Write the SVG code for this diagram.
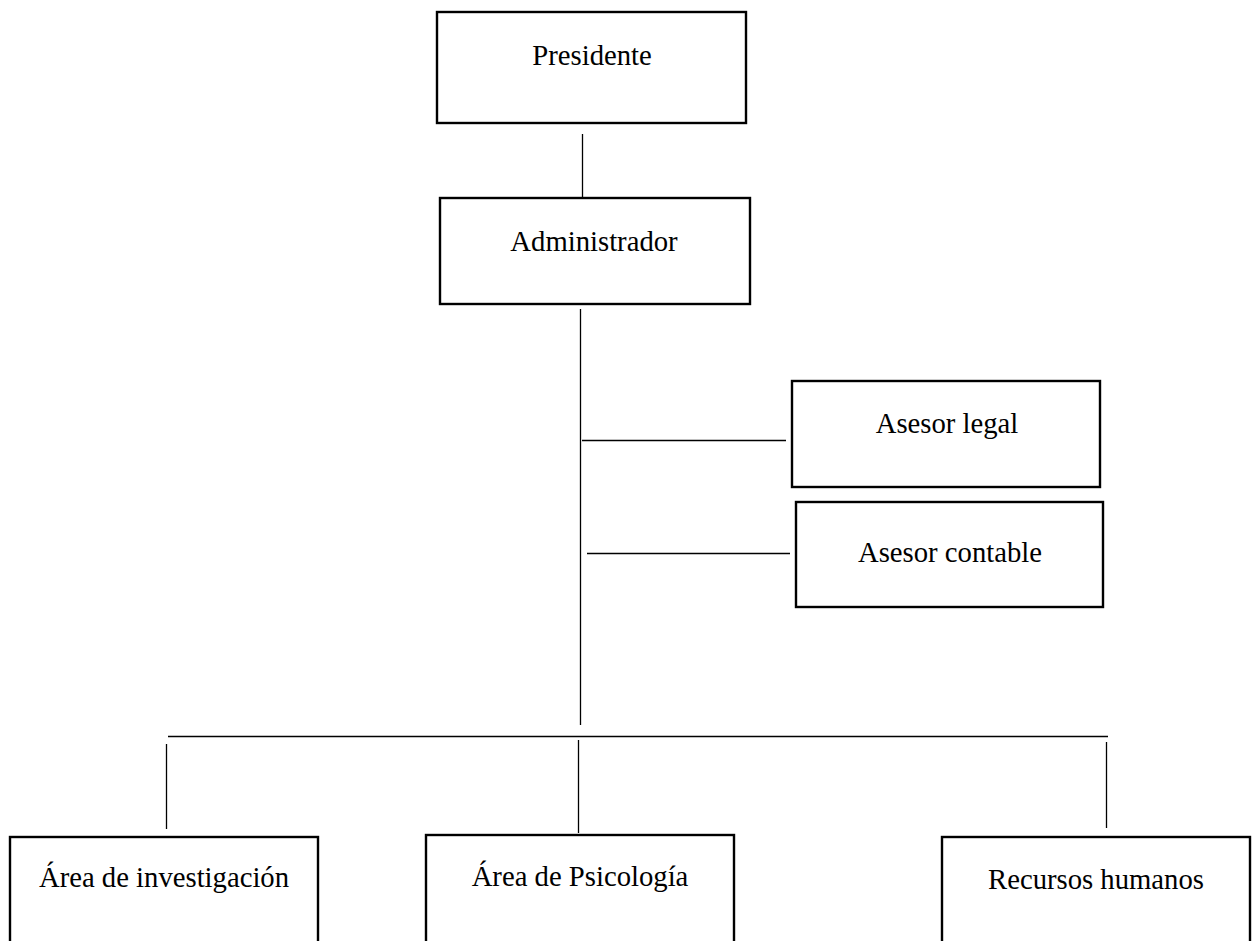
<svg xmlns="http://www.w3.org/2000/svg" width="1254" height="941" viewBox="0 0 1254 941">
<style>
.box{fill:#fff;stroke:#000;stroke-width:2.4}
.ln{stroke:#000;stroke-width:1.3;fill:none}
.t{font-family:"Liberation Serif","Times New Roman",serif;font-size:28.7px;fill:#000;text-anchor:middle}
</style>
<rect width="1254" height="941" fill="#fff"/>
<g id="connectors">
<line class="ln" x1="582.5" y1="134" x2="582.5" y2="197"/>
<line class="ln" x1="580.5" y1="309" x2="580.5" y2="725"/>
<line class="ln" x1="582" y1="440.5" x2="786" y2="440.5"/>
<line class="ln" x1="587" y1="553.5" x2="790" y2="553.5"/>
<line class="ln" x1="168" y1="736.5" x2="1108" y2="736.5"/>
<line class="ln" x1="166.5" y1="744" x2="166.5" y2="829"/>
<line class="ln" x1="578.5" y1="740" x2="578.5" y2="833"/>
<line class="ln" x1="1106.5" y1="742" x2="1106.5" y2="828"/>
</g>
<g id="presidente">
<rect class="box" x="437" y="12" width="309" height="111"/>
<text class="t" x="592" y="65">Presidente</text>
</g>
<g id="administrador">
<rect class="box" x="440" y="198" width="310" height="106"/>
<text class="t" x="594" y="251">Administrador</text>
</g>
<g id="asesor-legal">
<rect class="box" x="792" y="381" width="308" height="106"/>
<text class="t" x="947" y="433">Asesor legal</text>
</g>
<g id="asesor-contable">
<rect class="box" x="796" y="502" width="307" height="105"/>
<text class="t" x="950" y="562">Asesor contable</text>
</g>
<g id="area-investigacion">
<rect class="box" x="10" y="837" width="308" height="130"/>
<text class="t" x="164" y="887">Área de investigación</text>
</g>
<g id="area-psicologia">
<rect class="box" x="426" y="835" width="308" height="130"/>
<text class="t" x="580" y="886">Área de Psicología</text>
</g>
<g id="recursos-humanos">
<rect class="box" x="942" y="837" width="308" height="130"/>
<text class="t" x="1096" y="889">Recursos humanos</text>
</g>
</svg>
